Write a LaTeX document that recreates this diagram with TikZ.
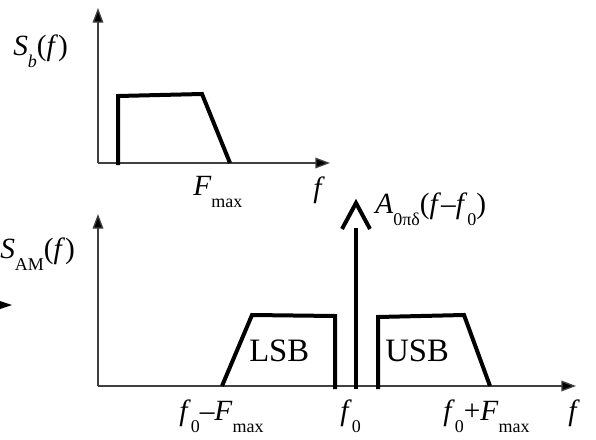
\documentclass[tikz,border=0pt]{standalone}
\usepackage{fontspec}
\setmainfont{Liberation Serif}
\usetikzlibrary{arrows.meta}
\newcommand{\lowsub}[1]{\raisebox{-9.5pt}{\fontsize{13.5}{13.5}\selectfont #1}}
\tikzset{
	axisline/.style={line width=1pt, draw=black!75, -{Triangle[length=11pt,width=8pt,fill=black]}},
	specline/.style={line width=3pt, line join=miter},
	lbl/.style={anchor=base west, inner sep=0pt, font=\fontsize{22}{22}\selectfont},
	bandlbl/.style={lbl, font=\fontsize{24.5}{24.5}\selectfont},
}
\begin{document}
\begin{tikzpicture}[x=0.75pt,y=0.75pt,yscale=-1,xscale=1]
	\useasboundingbox (0,0) rectangle (596,439);

	%Axes of S_b
	\draw [axisline] (98,163) -- (330,163) ;
	\draw [axisline] (98,163) -- (98,8) ;
	%Axes of S_AM
	\draw [axisline] (98,386) -- (576,386) ;
	\draw [axisline] (98,386) -- (98,214) ;

	%Baseband spectrum
	\draw [specline] (118,165) -- (118,96) -- (202,94) -- (230,163) ;
	%Lower side band
	\draw [specline] (222,386) -- (252,315) -- (335,316) -- (335,389) ;
	%Upper side band
	\draw [specline] (378,389) -- (378,317) -- (464,315) -- (490,386) ;
	%Carrier
	\draw [specline] (356,389) -- (356,228) ;
	\draw [specline] (342,229) -- (356,203) -- (370,229) ;

	%cut arrow at the left edge
	\fill (0,301) -- (12,305) -- (0,309) -- cycle ;

	% Text Node
	\node [lbl] (sb) at (13,55) {\textit{S}\lowsub{\textit{b}}(\textit{f})};
	% Text Node
	\node [lbl] (fmax) at (193,195) {\textit{F}\lowsub{max}};
	% Text Node
	\node [lbl] (ftop) at (313,197) {\textit{f}};
	% Text Node
	\node [lbl] (sam) at (0,258) {\textit{S}\lowsub{AM}(\textit{f})};
	% Text Node
	\node [lbl] (carrier) at (375,213) {\textit{A}\lowsub{0πδ}(\textit{f}–\textit{f}\lowsub{0})};
	% Text Node
	\node [bandlbl] (lsb) at (249,361) {LSB};
	% Text Node
	\node [bandlbl] (usb) at (385,361) {USB};
	% Text Node
	\node [lbl] (fminus) at (179,420) {\textit{f}\lowsub{0}–\textit{F}\lowsub{max}};
	% Text Node
	\node [lbl] (fzero) at (340,420) {\textit{f}\lowsub{0}};
	% Text Node
	\node [lbl] (fplus) at (443,420) {\textit{f}\lowsub{0}+\textit{F}\lowsub{max}};
	% Text Node
	\node [lbl] (fbot) at (568,420) {\textit{f}};
\end{tikzpicture}
\end{document}
